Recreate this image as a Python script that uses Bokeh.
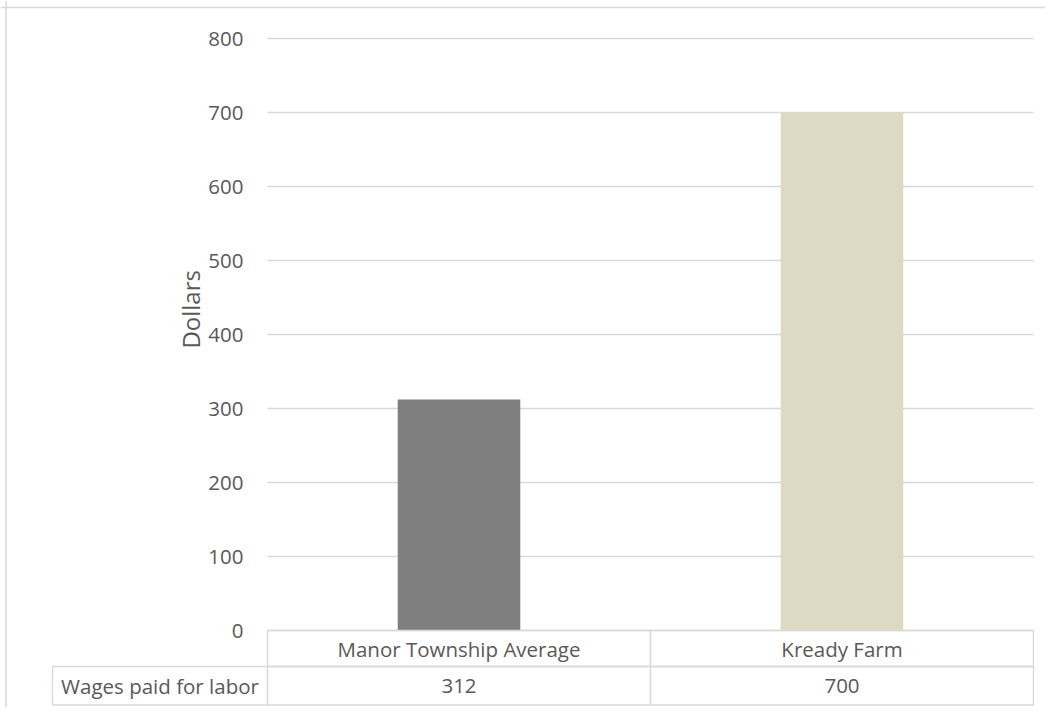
import math
from bokeh.plotting import figure
from bokeh.models import Range1d, FixedTicker, Label, Span
from bokeh.embed import file_html
from bokeh.resources import INLINE
from bokeh.core.properties import value

# ---- data ----
categories = ["Manor Township Average", "Kready Farm"]
wages = [312, 700]
series_name = "Wages paid for labor"
bar_colors = ["#7f7f7f", "#ddd9c3"]
y_ticks = [0, 100, 200, 300, 400, 500, 600, 700, 800]
y_title = "Dollars"

# ---- style / layout constants ----
FONT = "Open Sans"
FS = "20.5px"
TEXT = "#595959"
GRID = "#d9d9d9"
W, H = 1045, 707
PX_PER_CAT = 383.0          # horizontal pixels per category column
PX_PER_UNIT = 0.74          # vertical pixels per dollar
LEFT_PX = 267
TOP_PX = 38
RIGHT_PX = W - LEFT_PX - PX_PER_CAT * len(categories)
BOTTOM_PX = H - TOP_PX - PX_PER_UNIT * max(y_ticks)
ROW1_PX, ROW2_PX = 36.0, 38.5
LABEL_COL_PX = 215

n = len(categories)
x0 = -LEFT_PX / PX_PER_CAT
x1 = n + RIGHT_PX / PX_PER_CAT
y0 = -BOTTOM_PX / PX_PER_UNIT
y1 = max(y_ticks) + TOP_PX / PX_PER_UNIT
r1 = ROW1_PX / PX_PER_UNIT
r2 = ROW2_PX / PX_PER_UNIT
lab_w = LABEL_COL_PX / PX_PER_CAT

p = figure(width=W, height=H, x_range=Range1d(x0, x1), y_range=Range1d(y0, y1),
           output_backend="svg", toolbar_location=None, x_axis_location=None,
           min_border_left=0, min_border_right=0, min_border_top=0, min_border_bottom=0)
p.outline_line_color = None
p.xgrid.visible = False
p.ygrid.visible = False
p.background_fill_color = "white"
p.border_fill_color = "white"

# y axis placed at the left edge of the plot area
ax = p.yaxis[0]
ax.fixed_location = 0
ax.ticker = FixedTicker(ticks=y_ticks)
ax.axis_line_color = None
ax.major_tick_line_color = None
ax.minor_tick_line_color = None
ax.major_tick_out = 0
ax.major_label_standoff = 24
ax.major_label_text_font = FONT
ax.major_label_text_font_size = FS
ax.major_label_text_color = TEXT

# gridlines
xs = list(range(n + 1))
p.segment(x0=[xs[0]] * len(y_ticks), x1=[xs[-1]] * len(y_ticks), y0=y_ticks, y1=y_ticks,
          line_color=GRID, line_width=1.3)

# bars
centers = [i + 0.5 for i in range(n)]
p.vbar(x=centers, top=wages, bottom=0, width=0.32, fill_color=bar_colors, line_color=None)

# axis title
p.add_layout(Label(x=-77 / PX_PER_CAT, y=434, text=y_title, angle=math.pi / 2,
                   text_align="center", text_baseline="middle",
                   text_font=FONT, text_font_size="24px", text_color=TEXT))

# data table
lefts = [i for i in range(n)]
rights = [i + 1 for i in range(n)]
p.quad(left=lefts, right=rights, top=[0] * n, bottom=[-r1] * n,
       fill_color=None, line_color=GRID, line_width=1.3)
p.quad(left=lefts, right=rights, top=[-r1] * n, bottom=[-r1 - r2] * n,
       fill_color=None, line_color=GRID, line_width=1.3)
p.quad(left=[-lab_w], right=[0], top=[-r1], bottom=[-r1 - r2],
       fill_color=None, line_color=GRID, line_width=1.3)

p.text(x=centers, y=[-r1 / 2] * n, text=categories, text_align="center",
       text_baseline="middle", text_font=value(FONT), text_font_size=FS, text_color=TEXT)
p.text(x=centers, y=[-r1 - r2 / 2] * n, text=[str(v) for v in wages], text_align="center",
       text_baseline="middle", text_font=value(FONT), text_font_size=FS, text_color=TEXT)
p.text(x=[-lab_w / 2], y=[-r1 - r2 / 2], text=[series_name], text_align="center",
       text_baseline="middle", text_font=value(FONT), text_font_size=FS, text_color=TEXT)

# chart border (top and left edges visible)
p.add_layout(Span(location=max(y_ticks) + (TOP_PX - 7) / PX_PER_UNIT, dimension="width",
                  line_color=GRID, line_width=1.5))
p.add_layout(Span(location=-(LEFT_PX - 5.5) / PX_PER_CAT, dimension="height",
                  line_color=GRID, line_width=1.5))

open("out.html", "w").write(file_html(p, INLINE))
